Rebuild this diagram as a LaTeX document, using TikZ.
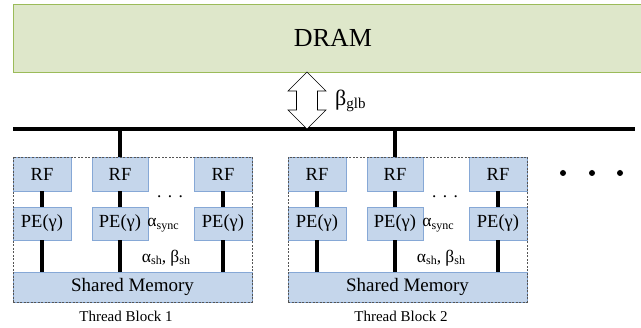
\documentclass[tikz,border=0pt]{standalone}
\usepackage{fontspec}
\setmainfont{Liberation Serif}
\usetikzlibrary{shadows}
\definecolor{dramfill}{HTML}{DEE7CA}
\definecolor{dramline}{HTML}{9BBB59}
\definecolor{blkfill}{HTML}{C5D6EB}
\definecolor{blkline}{HTML}{86A8D6}
\definecolor{dashcol}{HTML}{555555}
\newcommand{\mysub}[2]{{\fontsize{#1}{#1}\selectfont\raisebox{-0.45ex}{#2}}}
\tikzset{
  fs/.style={font=\fontsize{#1}{#1}\selectfont},
  blkbox/.style={draw=blkline, fill=blkfill, line width=0.7pt, inner sep=0pt, fs=18.5},
  rfbox/.style={blkbox, minimum width=58pt, minimum height=34pt},
  pebox/.style={blkbox, minimum width=58pt, minimum height=33pt},
  wire/.style={line width=4pt},
  tblock/.style={draw=dashcol, line width=0.8pt, dash pattern=on 2pt off 1.5pt},
  lbl/.style={inner sep=0pt, fs=17.5},
}
\begin{document}
\begin{tikzpicture}[x=1pt,y=-1pt]
\useasboundingbox (0,0) rectangle (641,328);
% DRAM
\node[draw=dramline, fill=dramfill, line width=0.8pt, minimum width=640pt, minimum height=68pt, inner sep=0pt, fs=26,
  drop shadow={opacity=0.25, shadow xshift=0pt, shadow yshift=-1.5pt}] (dram) at (333,38) {\raisebox{-4pt}{DRAM}};
% bus
\coordinate (busL) at (13,129);
\coordinate (busR) at (635,129);
\draw[wire] (busL) -- (busR);
% double arrow
\coordinate (atop) at (307,72);
\coordinate (abot) at (307,129);
\draw[line width=0.6pt, fill=white] (atop) -- ++(19,19) -- ++(-8.5,0) -- ++(0,19) -- ++(8.5,0)
  -- (abot) -- ++(-19,-19) -- ++(8.5,0) -- ++(0,-19) -- ++(-8.5,0) -- cycle;
\node[inner sep=0pt, fs=22, anchor=west] (bglb) at (335,101) {β\mysub{15}{glb}};
% thread blocks
\foreach \i/\dx in {1/0, 2/275} {
  \begin{scope}[xshift=\dx pt]
  \node[rfbox] (rfa\i) at (42,174) {RF};
  \node[rfbox, minimum width=56pt] (rfb\i) at (120,174) {RF};
  \node[rfbox] (rfc\i) at (223,174) {RF};
  \node[pebox] (pea\i) at (42,223.5) {PE(γ)};
  \node[pebox, minimum width=56pt] (peb\i) at (120,223.5) {PE(γ)};
  \node[pebox] (pec\i) at (223,223.5) {PE(γ)};
  \node[blkbox, minimum width=239pt, minimum height=30pt, fs=19] (sm\i) at (132.5,287) {Shared Memory};
  \foreach \c in {a,b,c} {
    \draw[wire] (rf\c\i) -- (pe\c\i);
    \draw[wire] (pe\c\i.south) -- (pe\c\i.south |- sm\i.north);
  }
  \draw[wire] (rfb\i.north) -- (rfb\i.north |- busL);
  \node[lbl] (dots\i) at (170,199) {·\hspace{5pt}·\hspace{5pt}·};
  \node[lbl] (async\i) at (163,225) {α\mysub{12}{sync}};
  \node[lbl] (ash\i) at (166,258) {α\mysub{12}{sh}, β\mysub{12}{sh}};
  \node[tblock, minimum width=239pt, minimum height=145pt, inner sep=0pt] (tb\i) at (132.5,229.5) {};
  \node[inner sep=0pt, fs=15] (tbl\i) at (126,316) {Thread Block \i};
  \end{scope}
}
% more blocks
\foreach \n/\xx in {1/563, 2/592, 3/620} {
  \node[circle, fill=black, inner sep=0pt, minimum size=6pt] (more\n) at (\xx,173) {};
}
\end{tikzpicture}
\end{document}
